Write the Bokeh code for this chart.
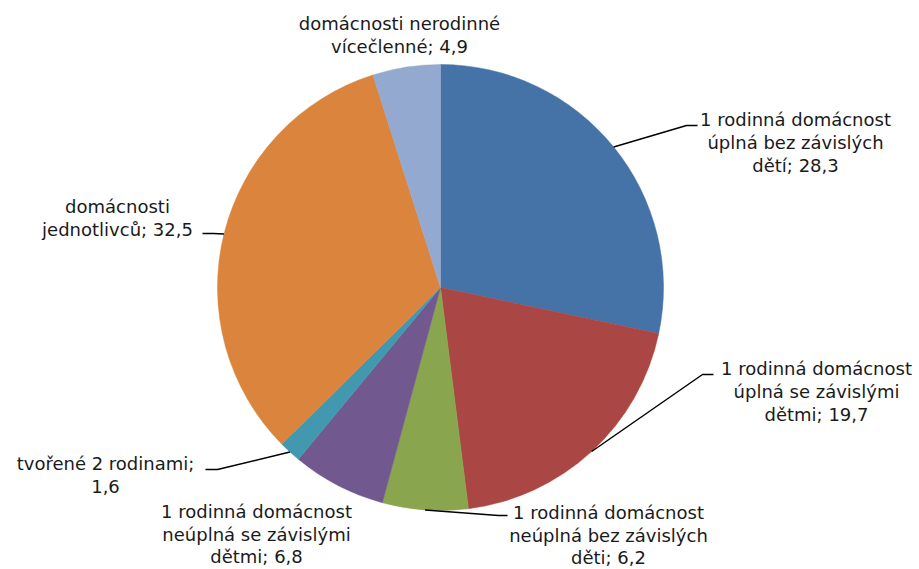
import math
from bokeh.plotting import figure
from bokeh.models import Range1d, ColumnDataSource
from bokeh.core.properties import value
from bokeh.embed import file_html
from bokeh.resources import INLINE

# ---- data ----
categories = [
    "1 rodinná domácnost úplná bez závislých dětí",
    "1 rodinná domácnost úplná se závislými dětmi",
    "1 rodinná domácnost neúplná bez závislých dětí",
    "1 rodinná domácnost neúplná se závislými dětmi",
    "tvořené 2 rodinami",
    "domácnosti jednotlivců",
    "domácnosti nerodinné vícečlenné",
]
values = [28.3, 19.7, 6.2, 6.8, 1.6, 32.5, 4.9]
label_lines = [
    ["1 rodinná domácnost", "úplná bez závislých", "dětí; 28,3"],
    ["1 rodinná domácnost", "úplná se závislými", "dětmi; 19,7"],
    ["1 rodinná domácnost", "neúplná bez závislých", "děti; 6,2"],
    ["1 rodinná domácnost", "neúplná se závislými", "dětmi; 6,8"],
    ["tvořené 2 rodinami;", "1,6"],
    ["domácnosti", "jednotlivců; 32,5"],
    ["domácnosti nerodinné", "vícečlenné; 4,9"],
]
colors = ["#4573A7", "#AA4643", "#89A54E", "#71588F", "#4198AF", "#DB843D", "#93A9CF"]

# ---- layout (picture pixel coordinates) ----
W, H = 919, 569
CX, CY, R = 440, 287, 223
label_pos = [(795, 119), (816, 368), (608, 512), (256, 511), (105, 463), (117, 206), (399, 23)]
line_gaps = [23, 23, 22.5, 22.5, 23, 23, 23]
leaders = [(686, 125, 697), (702, 374, 713), (498, 515, 507), None, (217, 469, 205), (213, 233, 202), None]


def Y(py):
    return H - py


p = figure(width=W, height=H, output_backend="svg", toolbar_location=None,
           x_range=Range1d(0, W), y_range=Range1d(0, H),
           min_border=0)
p.axis.visible = False
p.grid.visible = False
p.outline_line_color = None
p.background_fill_color = "white"

total = sum(values)
starts, ends, mids = [], [], []
cum = 0.0
for v in values:
    a0 = math.pi / 2 - cum / total * 2 * math.pi
    cum += v
    a1 = math.pi / 2 - cum / total * 2 * math.pi
    starts.append(a0)
    ends.append(a1)
    mids.append((a0 + a1) / 2)

src = ColumnDataSource(dict(start=starts, end=ends, color=colors, cat=categories, val=values))
p.wedge(x=CX, y=Y(CY), radius=R, start_angle="start", end_angle="end",
        direction="clock", fill_color="color", line_color="color", line_width=0.5, source=src)

for m, ld in zip(mids, leaders):
    if ld is None:
        continue
    ex = CX + R * math.cos(m)
    ey = Y(CY) + R * math.sin(m)
    bx, by, tx = ld
    p.line([ex, bx, tx], [ey, Y(by), Y(by)], line_color="black", line_width=1.5)

xs, ys, ts = [], [], []
for lines, (lx, ly), gap in zip(label_lines, label_pos, line_gaps):
    for i, t in enumerate(lines):
        xs.append(lx)
        ys.append(Y(ly + i * gap))
        ts.append(t)
p.text(x=xs, y=ys, text=ts, text_align="center", text_baseline="middle",
       text_font=value("DejaVu Sans"), text_font_size="18px", text_color="#1a1a1a")

open("out.html", "w").write(file_html(p, INLINE))
